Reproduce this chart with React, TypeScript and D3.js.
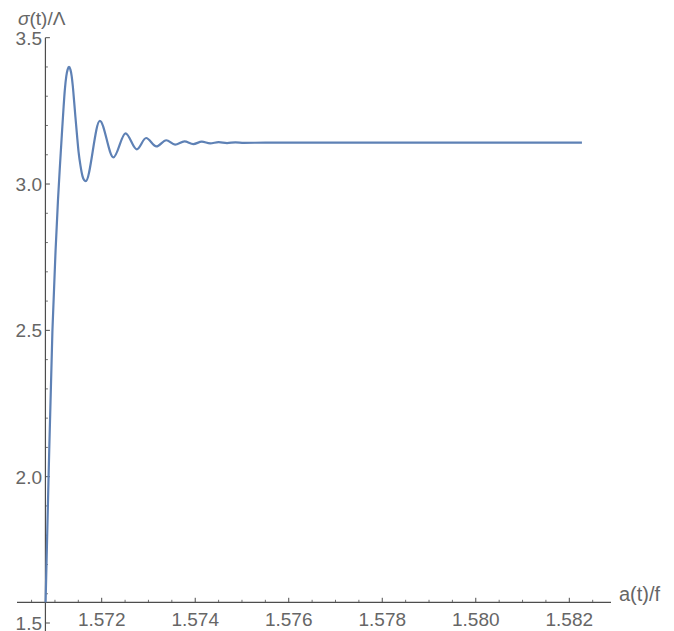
import React from "react";
import * as d3 from "d3";

// data
const aValues = [
  1.5708, 1.570864, 1.570946, 1.571014, 1.571065, 1.571108, 1.571147, 1.571181,
  1.571211, 1.571243, 1.571271, 1.571301, 1.571331, 1.571358, 1.571382, 1.571408,
  1.571438, 1.571472, 1.571506, 1.571547, 1.571589, 1.571622, 1.571658,
  1.57196, 1.57225, 1.57251, 1.57275, 1.57295, 1.57317, 1.57338, 1.57357, 1.57377,
  1.57396, 1.57414, 1.57432, 1.5745, 1.57468, 1.57486, 1.57504, 1.5755, 1.576,
  1.578, 1.58, 1.58227,
];
const sigmaValues = [
  1.5708, 2.0, 2.498, 2.774, 2.945, 3.065, 3.167, 3.253,
  3.321, 3.369, 3.391, 3.4, 3.391, 3.369, 3.335, 3.287,
  3.229, 3.167, 3.109, 3.062, 3.027, 3.014, 3.01,
  3.216, 3.0913, 3.1733, 3.1186, 3.1572, 3.1286, 3.1495, 3.1345, 3.1456,
  3.1366, 3.1446, 3.1391, 3.1432, 3.1401, 3.1426, 3.1406, 3.1416, 3.1416,
  3.1416, 3.1416, 3.1416,
];
const xTicks = [1.572, 1.574, 1.576, 1.578, 1.58, 1.582];
const xTickLabels = ["1.572", "1.574", "1.576", "1.578", "1.580", "1.582"];
const yTicks = [1.5, 2.0, 2.5, 3.0, 3.5];
const yTickLabels = ["1.5", "2.0", "2.5", "3.0", "3.5"];
const xLabel = "a(t)/f";

const W = 674;
const H = 631;
const FONT = "'Liberation Sans', Arial, sans-serif";
const AXIS = "#4d4d4d";
const TEXT = "#666666";
const LINE = "#5E81B5";

export default function App() {
  const x = d3.scaleLinear().domain([1.572, 1.582]).range([101.7, 569.3]);
  const y = d3.scaleLinear().domain([1.5, 3.5]).range([623.0, 37.7]);
  const x0 = x(Math.PI / 2);
  const y0 = y(Math.PI / 2);

  const pts = aValues.map((a, i) => [a, sigmaValues[i]] as [number, number]);
  const line = d3
    .line<[number, number]>()
    .x((d) => x(d[0]))
    .y((d) => y(d[1]))
    .curve(d3.curveMonotoneX);

  const xMinor: number[] = [];
  for (let v = 1.5705; v <= 1.5826; v += 0.0005) {
    const r = Math.round(v * 10000) / 10000;
    if (x(r) > 17 && x(r) < 611 && !xTicks.some((t) => Math.abs(t - r) < 1e-7)) xMinor.push(r);
  }
  const yMinor: number[] = [];
  for (let v = 1.5; v <= 3.5; v += 0.1) {
    const r = Math.round(v * 10) / 10;
    if (!yTicks.some((t) => Math.abs(t - r) < 1e-7)) yMinor.push(r);
  }

  return (
    <svg
      width={W}
      height={H}
      style={{ position: "absolute", left: 0, top: 0, background: "#fff" }}
    >
      {/* x axis */}
      <line x1={17} x2={611} y1={y0} y2={y0} stroke={AXIS} strokeWidth={1.2} />
      {xTicks.map((t) => (
        <line key={"xt" + t} x1={x(t)} x2={x(t)} y1={y0} y2={y0 - 4.5} stroke={AXIS} strokeWidth={1} />
      ))}
      {xMinor.map((t) => (
        <line key={"xm" + t} x1={x(t)} x2={x(t)} y1={y0} y2={y0 - 2.5} stroke={AXIS} strokeWidth={0.8} />
      ))}
      {xTicks.map((t, i) => (
        <text key={"xl" + t} x={x(t)} y={625.5} textAnchor="middle" fontFamily={FONT} fontSize={19} fill={TEXT}>
          {xTickLabels[i]}
        </text>
      ))}
      <text x={619} y={601} fontFamily={FONT} fontSize={20} fill={TEXT}>
        {xLabel}
      </text>

      {/* y axis */}
      <line x1={x0} x2={x0} y1={y(3.5)} y2={H} stroke={AXIS} strokeWidth={1.2} />
      {yTicks.map((t) => (
        <line key={"yt" + t} x1={x0} x2={x0 + 4.5} y1={y(t)} y2={y(t)} stroke={AXIS} strokeWidth={1} />
      ))}
      {yMinor.map((t) => (
        <line key={"ym" + t} x1={x0} x2={x0 + 2.5} y1={y(t)} y2={y(t)} stroke={AXIS} strokeWidth={0.8} />
      ))}
      {yTicks.map((t, i) => (
        <text key={"yl" + t} x={42} y={y(t) + 7} textAnchor="end" fontFamily={FONT} fontSize={19} fill={TEXT}>
          {yTickLabels[i]}
        </text>
      ))}
      <text x={18} y={25} fontFamily={FONT} fontSize={19} fill={TEXT}>
        <tspan fontStyle="italic">σ</tspan>
        <tspan>(t)/Λ</tspan>
      </text>

      {/* curve */}
      <path d={line(pts) || ""} fill="none" stroke={LINE} strokeWidth={2.2} strokeLinejoin="round" />
    </svg>
  );
}
